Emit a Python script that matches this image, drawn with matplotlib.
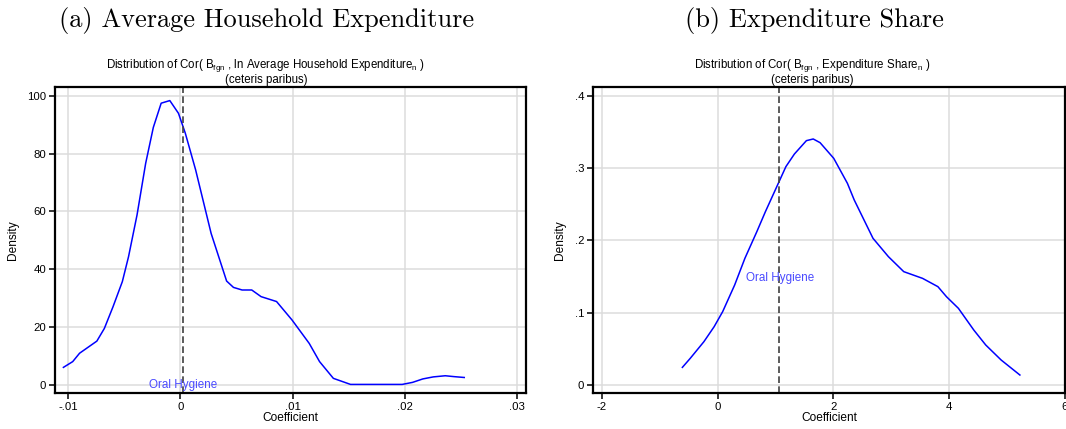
import matplotlib
matplotlib.use("Agg")
import matplotlib.pyplot as plt

plt.rcParams["font.family"] = ["Liberation Sans", "DejaVu Sans"]
plt.rcParams["mathtext.fontset"] = "custom"
plt.rcParams["mathtext.rm"] = "Liberation Sans"
plt.rcParams["mathtext.it"] = "Liberation Sans"

# (a) kernel density of coefficients, ln average household expenditure
hh_x = [-0.01043, -0.00960, -0.00899, -0.00745, -0.00678, -0.00601, -0.00518, -0.00463,
        -0.00387, -0.00310, -0.00242, -0.00172, -0.00095, -0.00018, 0.00043, 0.00135,
        0.00273, 0.00411, 0.00472, 0.00549, 0.00635, 0.00718, 0.00856, 0.00994,
        0.01147, 0.01239, 0.01362, 0.01515, 0.01975, 0.02067, 0.02159, 0.02252,
        0.02359, 0.02436, 0.02528]
hh_y = [6.0, 8.0, 10.9, 15.1, 19.5, 27.0, 35.7, 44.3, 58.8, 76.7, 89.1, 97.5, 98.4, 94.0,
        87.1, 74.4, 52.4, 35.9, 33.7, 32.8, 32.8, 30.5, 28.8, 22.4, 14.3, 8.0, 2.2, 0.1,
        0.1, 0.8, 2.0, 2.7, 3.1, 2.8, 2.5]
hh_oral = 0.00018

# (b) kernel density of coefficients, expenditure share
sh_x = [-0.608, -0.472, -0.236, -0.059, 0.088, 0.295, 0.472, 0.678, 0.826, 1.062, 1.180,
        1.327, 1.534, 1.652, 1.770, 2.006, 2.242, 2.360, 2.684, 2.950, 3.215, 3.540,
        3.805, 3.953, 4.159, 4.425, 4.631, 4.897, 5.221]
sh_y = [0.0240, 0.0365, 0.0596, 0.0804, 0.1012, 0.1381, 0.1751, 0.2120, 0.2397, 0.2813,
        0.3021, 0.3196, 0.3381, 0.3404, 0.3353, 0.3136, 0.2790, 0.2559, 0.2028, 0.1774,
        0.1566, 0.1473, 0.1358, 0.1219, 0.1058, 0.0757, 0.0550, 0.0342, 0.0134]
sh_oral = 1.068

hh_xticks = [-0.01, 0, 0.01, 0.02, 0.03]
hh_xlabels = ["-.01", "0", ".01", ".02", ".03"]
hh_yticks = [0, 20, 40, 60, 80, 100]
hh_ylabels = ["0", "20", "40", "60", "80", "100"]
sh_xticks = [-2, 0, 2, 4, 6]
sh_xlabels = ["-2", "0", "2", "4", "6"]
sh_yticks = [0, 0.1, 0.2, 0.3, 0.4]
sh_ylabels = ["0", ".1", ".2", ".3", ".4"]

W, H = 1066, 429
fig = plt.figure(figsize=(W / 100, H / 100), dpi=100)

ax1 = fig.add_axes([55.1 / W, 36.3 / H, 471.1 / W, 305.4 / H])
ax2 = fig.add_axes([593.2 / W, 36.3 / H, 471.8 / W, 305.4 / H])


def style(ax, xt, xl, yt, yl):
    ax.set_xticks(xt, xl)
    ax.set_yticks(yt, yl)
    ax.grid(True, color="#dcdcdc", lw=1.1)
    ax.set_axisbelow(True)
    for s in ax.spines.values():
        s.set_linewidth(1.6)
        s.set_color("black")
    ax.tick_params(direction="out", length=4, width=1.1, labelsize=8.2, pad=2.5,
                   colors="black")
    ax.set_xlabel("Coefficient", fontsize=8.6, labelpad=0)
    ax.set_ylabel("Density", fontsize=8.6, labelpad=6)


ax1.plot(hh_x, hh_y, color="#0000ff", lw=1.1)
ax1.axvline(hh_oral, color="#404040", lw=1.2, ls=(0, (4, 2)))
ax1.text(hh_oral + 0.00007, 0, "Oral Hygiene", color="#4a4aff", fontsize=8.4,
         ha="center", va="center")
ax1.set_xlim(-0.01117, 0.0308)
ax1.set_ylim(-2.77, 103.0)
style(ax1, hh_xticks, hh_xlabels, hh_yticks, hh_ylabels)

ax2.plot(sh_x, sh_y, color="#0000ff", lw=1.1)
ax2.axvline(sh_oral, color="#404040", lw=1.2, ls=(0, (4, 2)))
ax2.text(sh_oral + 0.01, 0.148, "Oral Hygiene", color="#4a4aff", fontsize=8.4,
         ha="center", va="center")
ax2.set_xlim(-2.148, 6.0)
ax2.set_ylim(-0.0111, 0.412)
style(ax2, sh_xticks, sh_xlabels, sh_yticks, sh_ylabels)

# Stata-style graph titles
fig.text(266 / W, 1 - 66 / H,
         "Distribution of Cor( B$_{\\mathrm{fgn}}$ , ln Average Household Expenditure$_{\\mathrm{n}}$ )",
         fontsize=8.3, ha="center", va="center")
fig.text(266 / W, 1 - 80.5 / H, "(ceteris paribus)", fontsize=8.3, ha="center", va="center")
fig.text(812.5 / W, 1 - 66 / H,
         "Distribution of Cor( B$_{\\mathrm{fgn}}$ , Expenditure Share$_{\\mathrm{n}}$ )",
         fontsize=8.3, ha="center", va="center")
fig.text(812.5 / W, 1 - 80.5 / H, "(ceteris paribus)", fontsize=8.3, ha="center", va="center")

# subfigure captions
fig.text(267 / W, 1 - 20 / H, "(a) Average Household Expenditure", family="cmr10",
         fontsize=19, ha="center", va="center")
fig.text(814 / W, 1 - 20 / H, "(b) Expenditure Share", family="cmr10",
         fontsize=19, ha="center", va="center")

fig.savefig("out.png", dpi=100)
